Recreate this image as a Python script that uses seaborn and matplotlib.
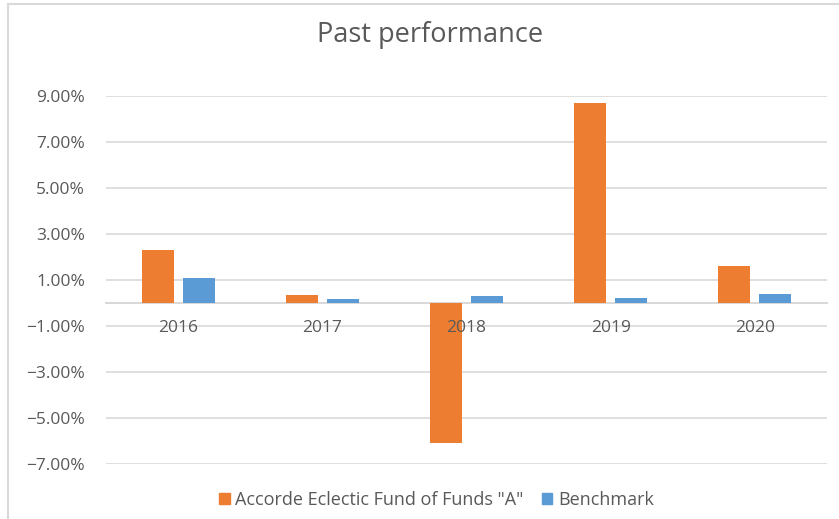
import matplotlib
matplotlib.use("Agg")
import matplotlib.pyplot as plt
import matplotlib.patches as mpatches
from matplotlib.ticker import PercentFormatter
import pandas as pd
import seaborn as sns

# datos del grafico
years = ["2016", "2017", "2018", "2019", "2020"]
fund = [2.30, 0.35, -6.10, 8.68, 1.60]
benchmark = [1.09, 0.18, 0.29, 0.20, 0.38]
series_names = ['Accorde Eclectic Fund of Funds "A"', "Benchmark"]
colores = ["#ED7D31", "#5B9BD5"]

df = pd.DataFrame({
    "year": years * 2,
    "value": [v / 100 for v in fund] + [v / 100 for v in benchmark],
    "serie": [series_names[0]] * len(years) + [series_names[1]] * len(years),
})

sns.set_style("white")
plt.rcParams["font.family"] = ["Open Sans", "DejaVu Sans"]
gris = "#595959"

fig = plt.figure(figsize=(8.39, 5.19), dpi=100)
ax = fig.add_axes([106 / 839, 1 - 464 / 519, 721 / 839, 368 / 519])

sns.barplot(data=df, x="year", y="value", hue="serie", palette=colores,
            width=0.57, gap=0.22, ax=ax, legend=False, saturation=1, linewidth=0)

ax.set_ylim(-0.07, 0.09)
ax.set_yticks([-0.07, -0.05, -0.03, -0.01, 0.01, 0.03, 0.05, 0.07, 0.09])
ax.yaxis.set_major_formatter(PercentFormatter(1.0, decimals=2))
ax.grid(axis="y", color="#D9D9D9", linewidth=1.2)
ax.set_axisbelow(True)
ax.xaxis.set_zorder(5)  # etiquetas de anios por encima de las barras
ax.set_xlim(-0.5, 4.5)

for s in ["top", "right", "left"]:
    ax.spines[s].set_visible(False)
ax.spines["bottom"].set_position(("data", 0))
ax.spines["bottom"].set_color("#D9D9D9")
ax.spines["bottom"].set_linewidth(1.5)
ax.spines["bottom"].set_zorder(0.5)

ax.tick_params(axis="x", length=0, pad=12, labelsize=12.5, colors=gris)
ax.tick_params(axis="y", length=0, pad=15, labelsize=12.5, colors=gris)
ax.set_xlabel("")
ax.set_ylabel("")

fig.text(0.512, 1 - 35 / 519, "Past performance", ha="center", va="center",
         fontsize=19.5, color=gris)

handles = [mpatches.Patch(color=c, label=n) for c, n in zip(colores, series_names)]
fig.legend(handles=handles, loc="center", bbox_to_anchor=(0.52, 1 - 500 / 519),
           ncol=2, frameon=False, fontsize=13, labelcolor=gris,
           handlelength=0.6, handleheight=0.6, handletextpad=0.3, columnspacing=1.0)

# borde del area del grafico
fig.patches.append(mpatches.Rectangle((7.5 / 839, -0.1), 2, 1 - 4.5 / 519 + 0.1,
                                      transform=fig.transFigure, fill=False,
                                      edgecolor="#D9D9D9", linewidth=1.5))

fig.savefig("out.png", dpi=100)
